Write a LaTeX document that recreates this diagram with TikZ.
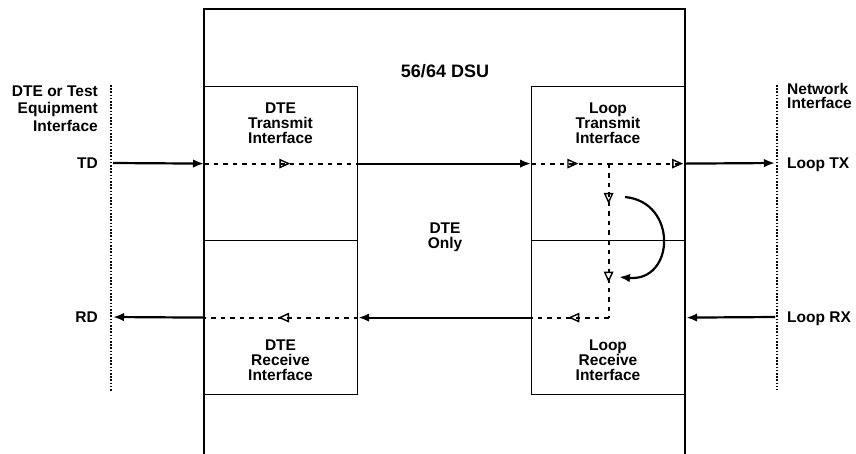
\documentclass[tikz,border=0pt]{standalone}
\usepackage{fontspec}
\setmainfont{Liberation Sans}
\usetikzlibrary{arrows.meta,decorations.markings}
\begin{document}
\begin{tikzpicture}[x=1pt, y=-1pt,
   every node/.style={font=\bfseries\fontsize{15.5}{15}\selectfont, inner sep=0pt, align=center},
   unit/.style={draw, line width=1.2pt, minimum width=#1, minimum height=154pt, anchor=north west},
   wire/.style={line width=2.2pt, -{Latex[length=11pt,width=8.5pt]}},
   dashwire/.style={line width=2.2pt, dash pattern=on 4.5pt off 5pt},
   tap/.style={postaction=decorate, decoration={markings,
       mark=at position #1 with {\arrow[line width=1.4pt]{Triangle[open,length=11pt,width=9.5pt]}}}},
   border/.style={line width=1.8pt, dash pattern=on 1.6pt off 1.6pt}]

\useasboundingbox[fill=white] (0,0) rectangle (856,453);

\node[unit=153pt] (dtetx) at (204,86) {};
\node[unit=153pt] (dterx) at (204,240) {};
\node[unit=154pt] (looptx) at (531,86) {};
\node[unit=154pt] (looprx) at (531,240) {};
\draw[line width=2.8pt] (204,460) -- (204,9) -- (685,9) -- (685,460);

\node[font=\bfseries\fontsize{18}{18}\selectfont, anchor=base] (dsu) at (445,77) {56/64 DSU};
\node[anchor=base] (dtetxtxt) at (280.5,143) {DTE\\Transmit\\Interface};
\node[anchor=base] (looptxtxt) at (608,143) {Loop\\Transmit\\Interface};
\node[anchor=base] (dterxtxt) at (280.5,380) {DTE\\Receive\\Interface};
\node[anchor=base] (looprxtxt) at (608,380) {Loop\\Receive\\Interface};
\node[anchor=base] (only) at (445,248) {DTE\\Only};

\node[anchor=base east, align=right, font=\bfseries\fontsize{15.5}{17.5}\selectfont] (dteside) at (98,131) {DTE or Test\\Equipment\\Interface};
\node[anchor=base west, align=left, font=\bfseries\fontsize{15.5}{14}\selectfont] (netside) at (787,108) {Network\\Interface};
\node[anchor=base east] (td) at (98,168) {TD};
\node[anchor=base east] (rd) at (98,322) {RD};
\node[anchor=base west] (looptxlbl) at (787,168) {Loop TX};
\node[anchor=base west] (looprxlbl) at (787,322) {Loop RX};

\coordinate (tdin) at (113,163);
\coordinate (rdout) at (113,317);
\coordinate (txout) at (775,163);
\coordinate (rxin) at (775,317);
\coordinate (swapfrom) at (625,197);
\coordinate (swapto) at (619,277);

\draw[border] (111,85) -- (111,392);
\draw[border] (777,85) -- (777,390);

\draw[wire] (tdin) -- (dtetx.west);
\draw[wire] (dtetx.east) -- (looptx.west);
\draw[wire] (looptx.east) -- (txout);
\draw[wire] (rxin) -- (looprx.east);
\draw[wire] (looprx.west) -- (dterx.east);
\draw[wire] (dterx.west) -- (rdout);

\draw[dashwire, tap=0.56] (dtetx.west) -- (dtetx.east);
\draw[dashwire, tap=0.61] (looptx.west) -- (looptx.center);
\draw[dashwire, tap=0.96] (looptx.center) -- (looptx.east);
\draw[dashwire, tap=0.52] (looptx.center) -- (looptx.south);
\draw[dashwire, tap=0.55] (looprx.north) -- (looprx.center);
\draw[dashwire, tap=0.52] (looprx.center) -- (looprx.west);
\draw[dashwire, tap=0.52] (dterx.east) -- (dterx.west);

\draw[wire] (swapfrom) .. controls (678,202) and (675,282) .. (swapto);

\end{tikzpicture}
\end{document}
